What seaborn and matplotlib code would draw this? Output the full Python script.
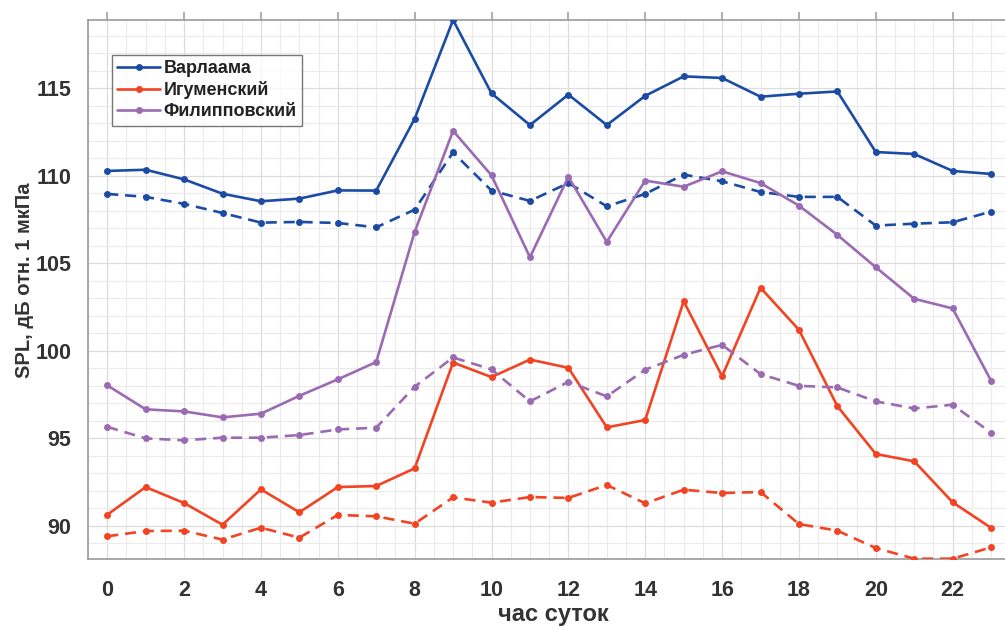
import numpy as np
import pandas as pd
import matplotlib
matplotlib.use("Agg")
import matplotlib.pyplot as plt
from matplotlib.lines import Line2D
from matplotlib.ticker import MultipleLocator
import seaborn as sns

hours = list(range(24))
sites = ["Варлаама", "Игуменский", "Филипповский"]

varlaama_solid = [110.27, 110.34, 109.79, 108.97, 108.54, 108.69, 109.16, 109.15, 113.25, 118.89,
                  114.70, 112.89, 114.63, 112.89, 114.56, 115.67, 115.58, 114.51, 114.68, 114.81,
                  111.35, 111.24, 110.27, 110.10]
varlaama_dashed = [108.96, 108.79, 108.39, 107.87, 107.32, 107.36, 107.30, 107.05, 108.06, 111.33,
                   109.15, 108.56, 109.58, 108.25, 108.96, 110.06, 109.68, 109.07, 108.79, 108.79,
                   107.15, 107.26, 107.34, 107.95]
igum_solid = [90.64, 92.22, 91.31, 90.07, 92.09, 90.78, 92.22, 92.28, 93.29, 99.33,
              98.50, 99.50, 99.03, 95.63, 96.05, 102.83, 98.55, 103.60, 101.20, 96.84,
              94.11, 93.69, 91.35, 89.89]
igum_dashed = [89.41, 89.71, 89.73, 89.22, 89.90, 89.33, 90.63, 90.55, 90.13, 91.63,
               91.33, 91.65, 91.60, 92.34, 91.29, 92.07, 91.88, 91.94, 90.11, 89.73,
               88.74, 88.13, 88.13, 88.78]
filip_solid = [98.03, 96.66, 96.54, 96.20, 96.41, 97.43, 98.37, 99.36, 106.79, 112.56,
               110.02, 105.34, 109.94, 106.22, 109.72, 109.37, 110.25, 109.58, 108.29, 106.62,
               104.77, 102.97, 102.42, 98.29]
filip_dashed = [95.66, 95.00, 94.89, 95.04, 95.04, 95.19, 95.51, 95.61, 97.95, 99.62,
                98.94, 97.11, 98.23, 97.40, 98.92, 99.77, 100.34, 98.67, 98.00, 97.91,
                97.11, 96.71, 96.92, 95.32]

colors = {"Варлаама": "#1B4BA5", "Игуменский": "#F24322", "Филипповский": "#9A6BB2"}

series = [
    ("Варлаама", "solid", varlaama_solid),
    ("Варлаама", "dashed", varlaama_dashed),
    ("Игуменский", "solid", igum_solid),
    ("Игуменский", "dashed", igum_dashed),
    ("Филипповский", "solid", filip_solid),
    ("Филипповский", "dashed", filip_dashed),
]

sns.set_style("whitegrid")
plt.rcParams["font.family"] = ["Liberation Sans", "DejaVu Sans"]
plt.rcParams["font.weight"] = "bold"

fig = plt.figure(figsize=(10.05, 6.26), dpi=100)
ax = fig.add_axes([88 / 1005, 67.3 / 626, (1010.3 - 88) / 1005, (558.7 - 20) / 626])

lw = 1.9
ms = 5.0
for site, kind, vals in series:
    df = pd.DataFrame({"hour": hours, "spl": vals})
    sns.lineplot(data=df, x="hour", y="spl", ax=ax, color=colors[site], lw=lw,
                 marker="o", markersize=ms, markeredgewidth=0,
                 dashes=(4.2, 2.6) if kind == "dashed" else "",
                 legend=False, zorder=3)

ymin = min(min(s[2]) for s in series)
ymax = max(max(s[2]) for s in series)
ax.set_xlim(-0.5, 23.5)
ax.set_ylim(ymin, ymax)

ax.xaxis.set_major_locator(MultipleLocator(2))
ax.xaxis.set_minor_locator(MultipleLocator(0.5))
ax.yaxis.set_major_locator(MultipleLocator(5))
ax.yaxis.set_minor_locator(MultipleLocator(1))
ax.grid(which="major", color="#dcdcdc", lw=0.9)
ax.grid(which="minor", color="#ebebeb", lw=0.8)
ax.set_axisbelow(True)

for sp in ax.spines.values():
    sp.set_color("#9a9a9a")
    sp.set_linewidth(1.2)

ax.tick_params(which="major", direction="out", length=6, width=1.1, color="#9a9a9a",
               top=True, right=True, labelsize=15.5, labelcolor="#333333", pad=6)
ax.tick_params(axis="x", which="major", pad=9)
ax.tick_params(which="minor", length=0)
for lab in ax.get_xticklabels() + ax.get_yticklabels():
    lab.set_fontweight("bold")

ax.set_xlabel("час суток", fontsize=17, fontweight="bold", color="#333333", labelpad=1.5)
ax.set_ylabel("SPL, дБ отн. 1 мкПа", fontsize=14.5, fontweight="bold", color="#333333", labelpad=1)
ax.xaxis.label.set_x(0.505)
ax.yaxis.label.set_y(0.516)

handles = [Line2D([0], [0], color=colors[s], lw=lw, marker="o", markersize=ms, markeredgewidth=0)
           for s in sites]
leg = ax.legend(handles, sites, loc="upper left", bbox_to_anchor=(0.026, 0.935),
                prop={"size": 13, "weight": "bold"}, frameon=True, fancybox=False,
                handlelength=2.35, handletextpad=0.2, borderpad=0.3, labelspacing=0.22,
                borderaxespad=0)
leg.get_frame().set_edgecolor("#555555")
leg.get_frame().set_linewidth(1.0)
for t in leg.get_texts():
    t.set_color("#222222")

fig.savefig("out.png", dpi=100, facecolor="white")
